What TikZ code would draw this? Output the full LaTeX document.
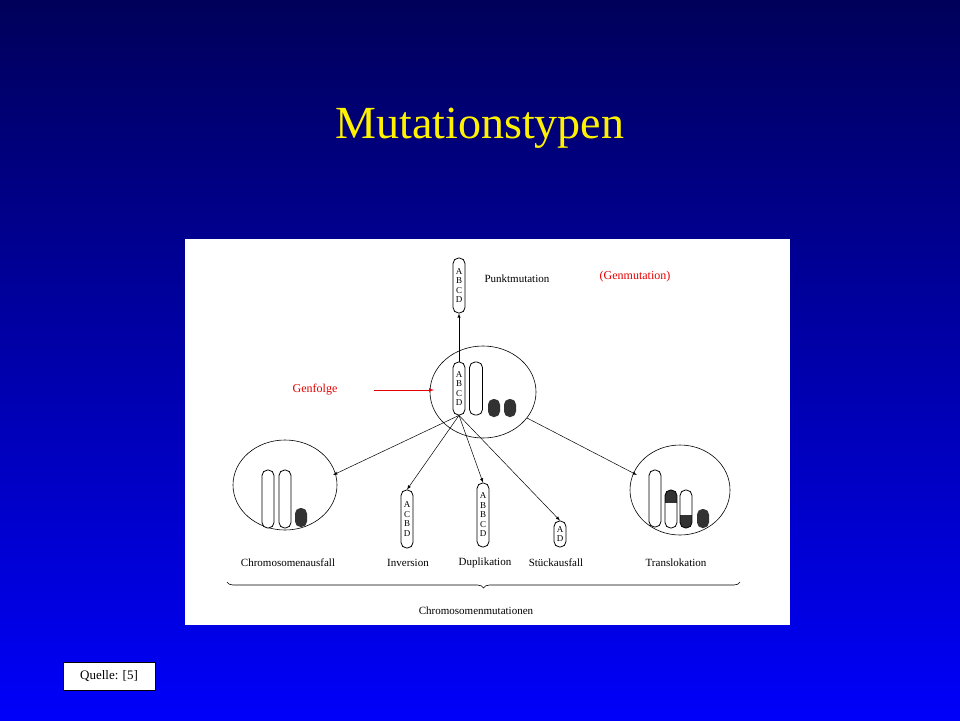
\documentclass[tikz,border=0pt]{standalone}
\usepackage{fontspec}
\setmainfont{Liberation Serif}
\usetikzlibrary{decorations.pathreplacing}
\definecolor{navy}{RGB}{0,0,90}
\definecolor{royal}{RGB}{0,0,250}
\definecolor{genred}{RGB}{230,0,0}
\definecolor{blob}{RGB}{50,50,50}

\begin{document}
\begin{tikzpicture}[x=1pt, y=-1pt,
  chrom/.style={draw, rounded corners=5.5pt, minimum width=12pt, inner sep=0pt, fill=white, line width=0.8pt},
  letters/.style={font=\fontsize{9}{9.5}\selectfont, align=center, inner sep=1pt},
  lbl/.style={font=\fontsize{11}{11}\selectfont},
  cell/.style={draw, line width=0.6pt},
  link/.style={-latex, line width=0.5pt},
  blobfill/.style={fill=blob, rounded corners=5.5pt}]
% Background
\shade[top color=navy, bottom color=royal] (0,0) rectangle (960,720);
\useasboundingbox (0,0) rectangle (960,720);
\node[text=yellow, font=\fontsize{46}{46}\selectfont] (title) at (480,128) {Mutationstypen};
\fill[white] (185,239) rectangle (790,625);

% Cells
\draw[cell] (483,392) ellipse (53 and 46);
\draw[cell] (285,485) ellipse (52 and 45);
\draw[cell] (680,490) ellipse (50 and 45);

% Chromosomes
\node[chrom, minimum height=55pt] (top) at (459,285.5) {};
\node[letters] at (top) {A\\B\\C\\D};
\node[chrom, minimum height=53pt] (mid) at (459,388.5) {};
\node[letters] at (mid) {A\\B\\C\\D};
\node[chrom, minimum height=53pt, minimum width=13pt] (mide) at (476,388.5) {};
\fill[blobfill] (488,399) rectangle (500,417);
\fill[blobfill] (504,399) rectangle (516,417);
\node[chrom, minimum height=58pt] (inv) at (407,519) {};
\node[letters] at (inv) {A\\C\\B\\D};
\node[chrom, minimum height=64pt] (dup) at (483,515) {};
\node[letters] at (dup) {A\\B\\B\\C\\D};
\node[chrom, minimum height=26pt] (del) at (560,534) {};
\node[letters] at (del) {A\\D};
% Chromosomenausfall
\node[chrom, minimum height=58pt] (la) at (268,499) {};
\node[chrom, minimum height=58pt] (lb) at (285,499) {};
\fill[blobfill] (295,508) rectangle (307,527);
% Translokation
\node[chrom, minimum height=57pt] (ta) at (655,498.5) {};
\begin{scope}
\clip[rounded corners=5.5pt] (665,490) rectangle (677,528);
\fill[blob] (665,490) rectangle (677,503);
\end{scope}
\begin{scope}
\clip[rounded corners=5.5pt] (680,490) rectangle (692,528);
\fill[blob] (680,515) rectangle (692,528);
\end{scope}
\draw[line width=0.8pt, rounded corners=5.5pt] (665,490) rectangle (677,528) (680,490) rectangle (692,528);
\fill[blobfill] (697,509) rectangle (709,528);

% Arrows
\coordinate (lcell) at (333,475);
\coordinate (rcell) at (637,475);
\coordinate (mcell) at (527,418);
\draw[link] (mid.north) -- (top.south);
\draw[link] (mid.south) -- (lcell);
\draw[link] (mid.south) -- (inv.north);
\draw[link] (mid.south) -- (dup.north);
\draw[link] (mid.south) -- (del.north);
\draw[link] (mcell) -- (rcell);

% Labels
\node[lbl, anchor=west] (pm) at (481,279) {Punktmutation};
\node[text=genred, font=\fontsize{12}{12}\selectfont] (gm) at (635,277) {(Genmutation)};
\node[text=genred, font=\fontsize{12}{12}\selectfont] (gf) at (315,390) {Genfolge};
\coordinate (gfstart) at (374,390);
\coordinate (gfend) at (434,390);
\draw[genred, -latex, line width=0.7pt] (gfstart) -- (gfend);
\node[lbl] (l1) at (288,563) {Chromosomenausfall};
\node[lbl] (l2) at (408,563) {Inversion};
\node[lbl] (l3) at (485,563) {Duplikation};
\node[lbl] (l4) at (556,563) {Stückausfall};
\node[lbl] (l5) at (676,563) {Translokation};
\draw[decorate, decoration={brace, amplitude=6pt, mirror}, line width=0.6pt] (227,582) -- (740,582);
\node[lbl] (cm) at (476,611) {Chromosomenmutationen};

% Source
\node[draw=black, fill=white, minimum width=92pt, minimum height=28pt, font=\fontsize{13}{13}\selectfont] (src) at (109,676) {Quelle: [5]};
\end{tikzpicture}
\end{document}
